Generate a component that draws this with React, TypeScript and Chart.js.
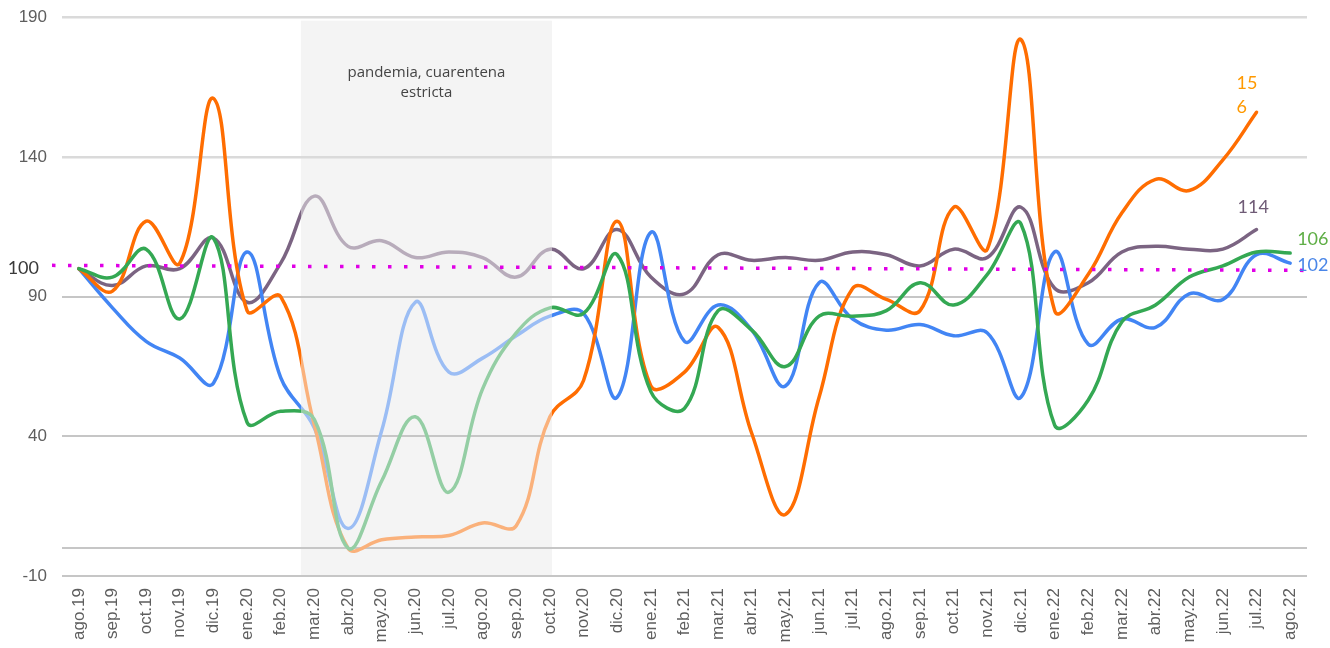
import React, { useEffect, useRef } from 'react';
import { Chart, registerables } from 'chart.js';

Chart.register(...registerables);

const months = [
  'ago.19', 'sep.19', 'oct.19', 'nov.19', 'dic.19', 'ene.20', 'feb.20', 'mar.20', 'abr.20', 'may.20',
  'jun.20', 'jul.20', 'ago.20', 'sep.20', 'oct.20', 'nov.20', 'dic.20', 'ene.21', 'feb.21', 'mar.21',
  'abr.21', 'may.21', 'jun.21', 'jul.21', 'ago.21', 'sep.21', 'oct.21', 'nov.21', 'dic.21', 'ene.22',
  'feb.22', 'mar.22', 'abr.22', 'may.22', 'jun.22', 'jul.22', 'ago.22',
];

const serieNaranja = [
  100, 92, 117, 102, 161, 85, 90, 44, 0, 3, 4, 4.5, 9, 8, 47, 60, 117, 58, 63, 79,
  41, 12, 54, 93, 89, 85, 122, 107, 182, 85, 98, 120, 132, 128, 139, 156,
];

const serieVerde = [
  100, 97, 107, 82, 111, 45, 49, 46, 0, 24, 47, 20, 57, 77, 86, 84, 105, 56, 50, 85,
  78, 65, 83, 83, 85, 95, 87, 98, 116, 44, 53, 81, 87, 97, 101, 106, 105.6,
];

const serieAzul = [
  100, 86, 74, 68, 59, 106, 61, 43, 7, 42, 88, 63, 68, 76, 83, 84, 54, 113, 74, 87,
  78, 58, 95, 82, 78, 80, 76, 77, 54, 106, 73, 82, 79, 91, 89, 105, 102,
];

const serieVioleta = [
  100, 94, 101, 100, 111, 88, 102, 126, 108, 110, 104, 106, 104, 97, 107, 100, 114, 97, 91, 105,
  103, 104, 103, 106, 105, 101, 107, 104, 122, 93, 95, 106, 108, 107, 107, 114,
];

const yTickValues = [-10, 0, 40, 90, 140, 190];
const baseLevel = 100;
const baseLineEnds = [101.2, 99.4];
const annotationLines = ['pandemia, cuarentena', 'estricta'];
// pandemic band, in category-index units (between feb.20 and oct.20)
const pandemicFrom = 6.6;
const pandemicTo = 14.06;

const SHADE = '#f4f4f4';

function mix(hex: string, bgHex: string, t: number) {
  const p = (h: string) => [1, 3, 5].map((i) => parseInt(h.slice(i, i + 2), 16));
  const a = p(hex);
  const b = p(bgHex);
  return `rgb(${a.map((v, i) => Math.round(v * t + b[i] * (1 - t))).join(',')})`;
}

const clamp01 = (v: number) => Math.max(0, Math.min(1, v));

const makeStroke = (color: string) => (ctx: any) => {
  const chart = ctx.chart;
  const xs = chart.scales && chart.scales.x;
  if (!chart.chartArea || !xs) return color;
  const x0 = xs.getPixelForValue(pandemicFrom);
  const x1 = xs.getPixelForValue(pandemicTo);
  if (!isFinite(x0) || !isFinite(x1)) return color;
  const g = chart.ctx.createLinearGradient(0, 0, chart.width, 0);
  const f0 = clamp01(x0 / chart.width);
  const f1 = clamp01(x1 / chart.width);
  const light = mix(color, SHADE, 0.5);
  g.addColorStop(0, color);
  g.addColorStop(f0, color);
  g.addColorStop(f0, light);
  g.addColorStop(f1, light);
  g.addColorStop(f1, color);
  g.addColorStop(1, color);
  return g;
};

const overlayPlugin = {
  id: 'overlayPlugin',
  beforeDraw(chart: any) {
    const { ctx, chartArea, scales } = chart;
    const x = scales.x;
    const y = scales.y;
    const x0 = x.getPixelForValue(pandemicFrom);
    const x1 = x.getPixelForValue(pandemicTo);
    const top = y.getPixelForValue(188.8);
    ctx.save();
    ctx.fillStyle = SHADE;
    ctx.fillRect(x0, top, x1 - x0, chartArea.bottom + 1 - top);
    ctx.restore();
  },
  afterDatasetsDraw(chart: any) {
    const { ctx, chartArea, scales } = chart;
    const x = scales.x;
    const y = scales.y;
    ctx.save();
    // annotation
    const cx = (x.getPixelForValue(pandemicFrom) + x.getPixelForValue(pandemicTo)) / 2;
    const ty = y.getPixelForValue(170);
    ctx.font = '15px "Open Sans"';
    ctx.fillStyle = '#444444';
    ctx.textAlign = 'center';
    ctx.textBaseline = 'middle';
    annotationLines.forEach((l, i) => ctx.fillText(l, cx, ty + i * 20));

    // dotted 100 reference
    ctx.strokeStyle = '#e000e6';
    ctx.lineWidth = 3.5;
    ctx.setLineDash([3.5, 12.5]);
    ctx.lineCap = 'butt';
    ctx.beginPath();
    ctx.moveTo(chartArea.left - 10, y.getPixelForValue(baseLineEnds[0]));
    ctx.lineTo(chartArea.right, y.getPixelForValue(baseLineEnds[1]));
    ctx.stroke();
    ctx.setLineDash([]);

    // 100 label
    ctx.font = '18px Lato';
    ctx.fillStyle = '#3a3a3a';
    ctx.textAlign = 'right';
    ctx.fillText(String(baseLevel), chartArea.left - 23, y.getPixelForValue(baseLevel) - 1);

    // end labels
    chart.data.datasets.forEach((ds: any, i: number) => {
      const meta = chart.getDatasetMeta(i);
      const pts = meta.data;
      const last = pts[pts.length - 1];
      const v = ds.data[ds.data.length - 1];
      const cfg = ds.endLabel;
      if (!last || !cfg) return;
      ctx.font = '18px Lato';
      ctx.fillStyle = cfg.color;
      ctx.textAlign = 'left';
      ctx.textBaseline = 'middle';
      const txt = String(Math.round(v));
      const lines = cfg.split ? [txt.slice(0, cfg.split), txt.slice(cfg.split)] : [txt];
      lines.forEach((l: string, k: number) => {
        ctx.fillText(l, last.x + cfg.dx, last.y + cfg.dy + k * (cfg.gap || 0));
      });
    });
    ctx.restore();
  },
};

export default function App() {
  const canvasRef = useRef<HTMLCanvasElement | null>(null);

  useEffect(() => {
    if (!canvasRef.current) return;
    const mk = (label: string, data: number[], color: string, endLabel: any) => ({
      label,
      data,
      borderColor: makeStroke(color),
      backgroundColor: color,
      borderWidth: 3.5,
      pointRadius: 0,
      pointHoverRadius: 0,
      tension: 0.4,
      fill: false,
      borderCapStyle: 'round',
      borderJoinStyle: 'round',
      endLabel,
    });

    const chart = new Chart(canvasRef.current, {
      type: 'line',
      data: {
        labels: months,
        datasets: [
          mk('Verde', serieVerde, '#34a853', { color: '#5fae46', dx: 7, dy: -14 }),
          mk('Naranja', serieNaranja, '#ff6d01', { color: '#ff9900', dx: -20, dy: -29, gap: 23.5, split: 2 }),
          mk('Azul', serieAzul, '#4285f4', { color: '#4a86e8', dx: 7, dy: 2 }),
          mk('Violeta', serieVioleta, '#7b6482', { color: '#6f5b76', dx: -19, dy: -22 }),
        ] as any,
      },
      options: {
        responsive: false,
        devicePixelRatio: 1,
        animation: false,
        events: [],
        layout: { padding: { top: 17.3, right: 23, left: 0, bottom: 0 } },
        plugins: {
          legend: { display: false },
          tooltip: { enabled: false },
        },
        scales: {
          x: {
            type: 'category',
            offset: true,
            grid: { display: false, drawTicks: false },
            border: { display: false },
            ticks: {
              autoSkip: false,
              minRotation: 90,
              maxRotation: 90,
              padding: 12,
              color: '#5e5e5e',
              font: { family: '"Liberation Sans", Arial, sans-serif', size: 17 },
            },
            afterFit: (scale: any) => {
              scale.height = 72;
              scale.paddingLeft = 0;
              scale.paddingRight = 0;
            },
          },
          y: {
            min: -10,
            max: 190,
            afterBuildTicks: (scale: any) => {
              scale.ticks = yTickValues.map((v) => ({ value: v }));
            },
            afterFit: (scale: any) => {
              scale.width = 62;
              scale.paddingTop = 0;
              scale.paddingBottom = 0;
            },
            border: { display: false },
            grid: {
              drawTicks: false,
              color: (c: any) => (c.tick && c.tick.value >= 140 ? '#dadada' : '#c6c6c6'),
              lineWidth: (c: any) => (c.tick && c.tick.value >= 140 ? 2.5 : 2),
            },
            ticks: {
              padding: 15,
              color: '#5e5e5e',
              font: { family: '"Liberation Sans", Arial, sans-serif', size: 17 },
              callback: (v: any) => (v === 0 ? '' : String(v)),
            },
          },
        },
      } as any,
      plugins: [overlayPlugin as any],
    });
    return () => chart.destroy();
  }, []);

  return (
    <div style={{ position: 'absolute', left: 0, top: 0, width: 1330, height: 648, background: '#ffffff' }}>
      <canvas ref={canvasRef} width={1330} height={648} style={{ display: 'block' }} />
    </div>
  );
}
